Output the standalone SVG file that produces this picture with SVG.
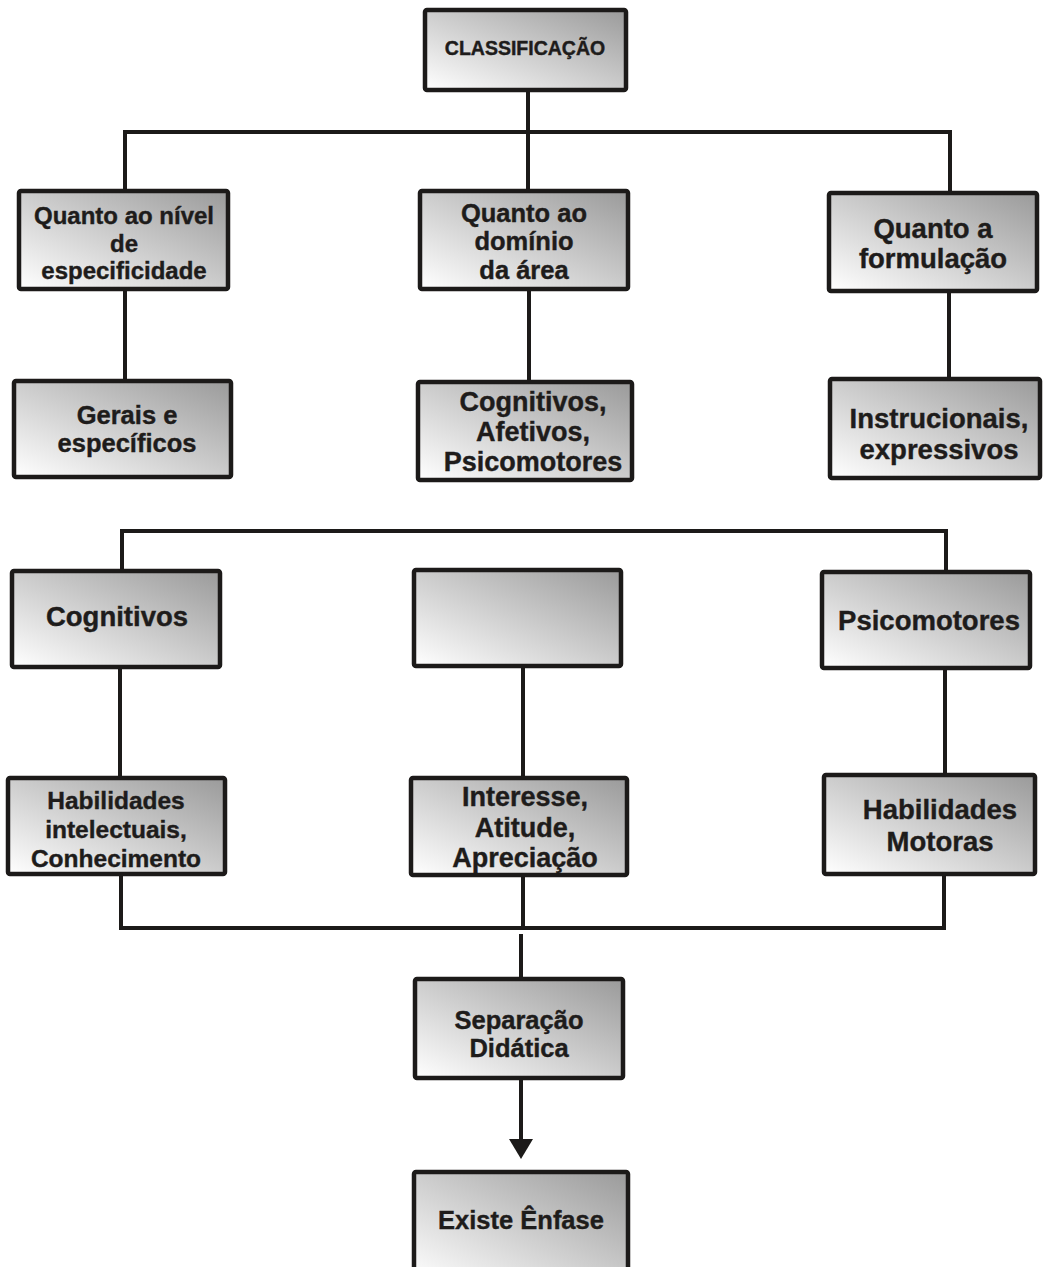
<svg xmlns="http://www.w3.org/2000/svg" width="1043" height="1267" viewBox="0 0 1043 1267">
<defs>
<linearGradient id="g" x1="0" y1="1" x2="1" y2="0">
<stop offset="0" stop-color="#ffffff"/>
<stop offset="1" stop-color="#9a9a9a"/>
</linearGradient>
</defs>
<style>
.box{fill:url(#g);stroke:#1c1a19;stroke-width:4.5;stroke-linejoin:round}
.c{fill:none;stroke:#1c1a19;stroke-width:4;stroke-linejoin:miter}
text{font-family:"Liberation Sans",Arial,sans-serif;font-weight:bold;fill:#1e1c1b;stroke:#1e1c1b;stroke-width:0.4;text-anchor:middle}
</style>
<rect width="1043" height="1267" fill="#ffffff"/>
<g id="connectors">
<path class="c" d="M528,90 V191"/>
<path class="c" d="M125,191 V132 H950 V193"/>
<path class="c" d="M125,289 V381"/>
<path class="c" d="M529,289 V382"/>
<path class="c" d="M949,291 V379"/>
<path class="c" d="M122,571 V531 H946 V572"/>
<path class="c" d="M120,667 V778"/>
<path class="c" d="M523,666 V778"/>
<path class="c" d="M945,668 V775"/>
<path class="c" d="M121,874 V928 H944 V874"/>
<path class="c" d="M523,875 V928"/>
<path class="c" d="M521,934 V979"/>
<path class="c" d="M521,1078 V1141"/>
<polygon points="509,1139 533,1139 521,1159" fill="#1c1a19"/>
</g>
<g id="n-classificacao">
<rect class="box" x="425" y="10" width="201" height="80" rx="2"/>
<text x="525" y="55" font-size="19.5">CLASSIFICAÇÃO</text>
</g>
<g id="n-nivel">
<rect class="box" x="19" y="191" width="209" height="98" rx="2"/>
<text x="124" y="224" font-size="24">Quanto ao nível</text>
<text x="124" y="252" font-size="24">de</text>
<text x="124" y="279" font-size="24">especificidade</text>
</g>
<g id="n-dominio">
<rect class="box" x="420" y="191" width="208" height="98" rx="2"/>
<text x="524" y="222" font-size="25.5">Quanto ao</text>
<text x="524" y="250" font-size="25.5">domínio</text>
<text x="524" y="279" font-size="25.5">da área</text>
</g>
<g id="n-formulacao">
<rect class="box" x="829" y="193" width="208" height="98" rx="2"/>
<text x="933" y="238" font-size="27.5">Quanto a</text>
<text x="933" y="268" font-size="27.5">formulação</text>
</g>
<g id="n-gerais">
<rect class="box" x="14" y="381" width="217" height="96" rx="2"/>
<text x="127" y="424" font-size="25.5">Gerais e</text>
<text x="127" y="452" font-size="25.5">específicos</text>
</g>
<g id="n-cog-afet-psico">
<rect class="box" x="418" y="382" width="214" height="98" rx="2"/>
<text x="533" y="411" font-size="27">Cognitivos,</text>
<text x="533" y="441" font-size="27">Afetivos,</text>
<text x="533" y="471" font-size="27">Psicomotores</text>
</g>
<g id="n-instrucionais">
<rect class="box" x="830" y="379" width="210" height="99" rx="2"/>
<text x="939" y="428" font-size="27.5">Instrucionais,</text>
<text x="939" y="459" font-size="27.5">expressivos</text>
</g>
<g id="n-cognitivos">
<rect class="box" x="12" y="571" width="208" height="96" rx="2"/>
<text x="117" y="626" font-size="27.5">Cognitivos</text>
</g>
<g id="n-vazio">
<rect class="box" x="414" y="570" width="207" height="96" rx="2"/>
</g>
<g id="n-psicomotores">
<rect class="box" x="822" y="572" width="208" height="96" rx="2"/>
<text x="929" y="630" font-size="27.5">Psicomotores</text>
</g>
<g id="n-hab-int">
<rect class="box" x="8" y="778" width="217" height="96" rx="2"/>
<text x="116" y="809" font-size="24.5">Habilidades</text>
<text x="116" y="838" font-size="24.5">intelectuais,</text>
<text x="116" y="867" font-size="24.5">Conhecimento</text>
</g>
<g id="n-interesse">
<rect class="box" x="411" y="778" width="216" height="97" rx="2"/>
<text x="525" y="806" font-size="27">Interesse,</text>
<text x="525" y="837" font-size="27">Atitude,</text>
<text x="525" y="867" font-size="27">Apreciação</text>
</g>
<g id="n-hab-mot">
<rect class="box" x="824" y="775" width="211" height="99" rx="2"/>
<text x="940" y="819" font-size="27.5">Habilidades</text>
<text x="940" y="851" font-size="27.5">Motoras</text>
</g>
<g id="n-separacao">
<rect class="box" x="415" y="979" width="208" height="99" rx="2"/>
<text x="519" y="1029" font-size="25.5">Separação</text>
<text x="519" y="1057" font-size="25.5">Didática</text>
</g>
<g id="n-enfase">
<rect class="box" x="414" y="1172" width="214" height="110" rx="2"/>
<text x="521" y="1229" font-size="25.5">Existe Ênfase</text>
</g>
</svg>
